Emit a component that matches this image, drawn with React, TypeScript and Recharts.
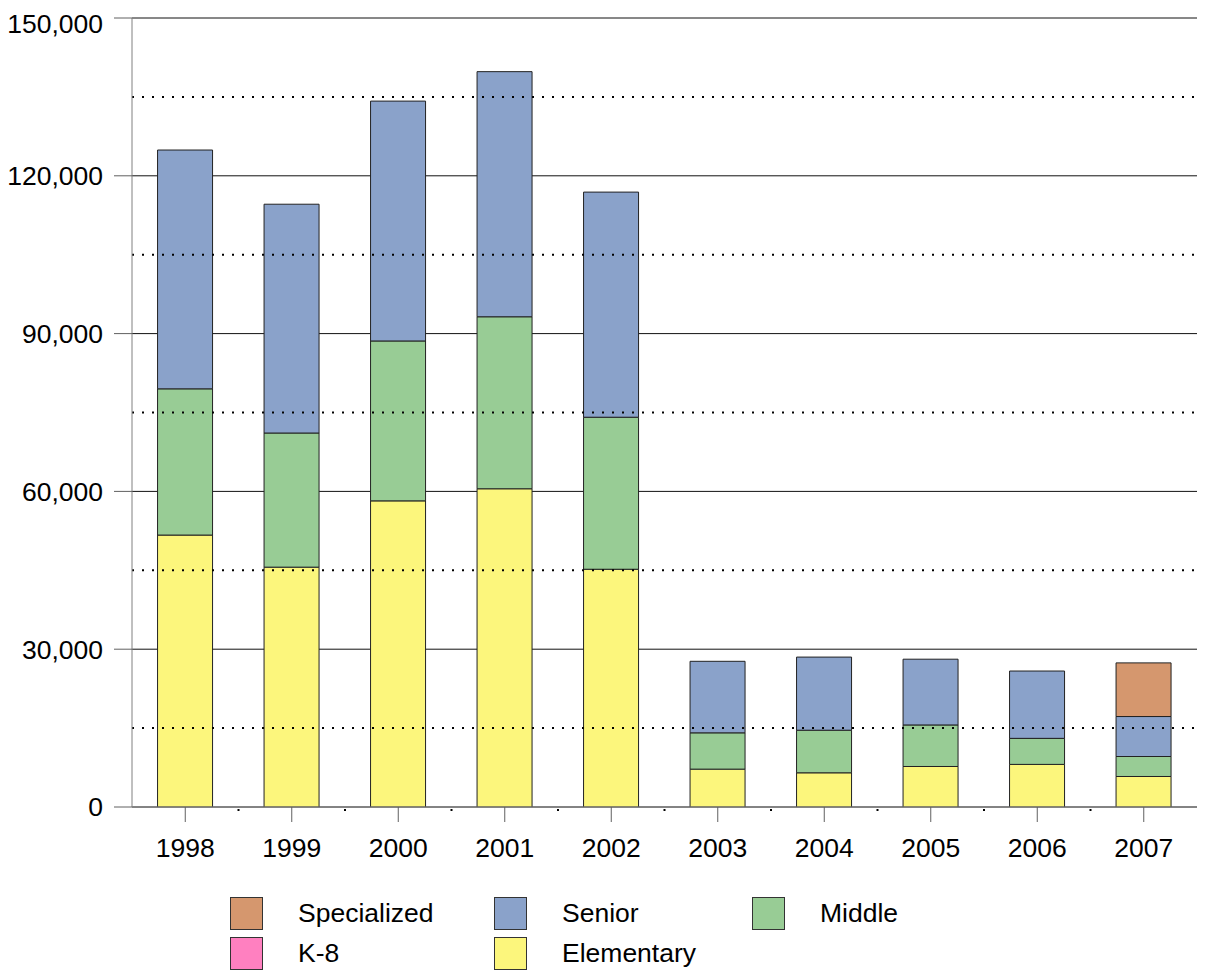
import React from 'react';
import { BarChart, Bar, XAxis, YAxis, CartesianGrid, ReferenceLine, Legend } from 'recharts';

const years = ['1998', '1999', '2000', '2001', '2002', '2003', '2004', '2005', '2006', '2007'];
const elementary = [51700, 45600, 58200, 60500, 45200, 7200, 6500, 7700, 8100, 5800];
const k8 = [0, 0, 0, 0, 0, 0, 0, 0, 0, 0];
const middle = [27800, 25500, 30400, 32700, 28900, 6900, 8100, 7900, 4950, 3800];
const senior = [45400, 43500, 45600, 46600, 42800, 13600, 13900, 12500, 12800, 7600];
const specialized = [0, 0, 0, 0, 0, 0, 0, 0, 0, 10200];
const yTicks = [0, 30000, 60000, 90000, 120000, 150000];
const minorGrid = [15000, 45000, 75000, 105000, 135000];

const seriesInfo = [
  { key: 'Elementary', color: '#FCF67C' },
  { key: 'K-8', color: '#FF80C0' },
  { key: 'Middle', color: '#98CC95' },
  { key: 'Senior', color: '#8AA2CA' },
  { key: 'Specialized', color: '#D5976E' },
];

const legendLayout = [
  ['Specialized', 'Senior', 'Middle'],
  ['K-8', 'Elementary'],
];

const data = years.map((y, i) => ({
  year: y,
  Elementary: elementary[i],
  'K-8': k8[i],
  Middle: middle[i],
  Senior: senior[i],
  Specialized: specialized[i],
}));

const FONT = '"Liberation Sans", Arial, sans-serif';
const FS = 26.5;

const colorOf = (k: string) => seriesInfo.find((s) => s.key === k)!.color;

const LegendContent = () => {
  const colX = [222, 486, 744];
  return (
    <div style={{ position: 'relative', width: 1201, height: 80, fontFamily: FONT, fontSize: FS, color: '#000' }}>
      {legendLayout.map((row, r) =>
        row.map((k, c) => (
          <div key={k} style={{ position: 'absolute', left: colX[c], top: r * 40, height: 33, display: 'flex', alignItems: 'center' }}>
            <div style={{ width: 31, height: 31, background: colorOf(k), border: '1px solid #333' }} />
            <span style={{ marginLeft: 35, whiteSpace: 'nowrap', lineHeight: '33px' }}>{k}</span>
          </div>
        ))
      )}
    </div>
  );
};

const XTick = (props: any) => {
  const { x, y, payload, index } = props;
  const axisY = y - 15 - 16;
  return (
    <g>
      {index > 0 && payload && payload.offset ? (
        <rect x={x - payload.offset - 1} y={axisY + 2} width={2} height={2} fill="#000" />
      ) : null}
      <text x={x} y={y} dy="0.71em" textAnchor="middle" fontFamily={FONT} fontSize={FS} fill="#000">
        {payload.value}
      </text>
    </g>
  );
};

export default function App() {
  return (
    <div style={{ position: 'relative', width: 1201, height: 964 }}>
      <BarChart
        width={1201}
        height={964}
        data={data}
        margin={{ top: 10, right: 12, left: 24, bottom: 105 }}
        barCategoryGap="24%"
      >
        <CartesianGrid horizontal vertical={false} stroke="#111" strokeWidth={1} />
        {minorGrid.map((v) => (
          <ReferenceLine key={v} y={v} stroke="#000" strokeWidth={2} strokeDasharray="2 8" />
        ))}
        <XAxis
          dataKey="year"
          height={60}
          tickSize={15}
          tickMargin={16}
          tickLine={{ stroke: '#606060' }}
          axisLine={{ stroke: '#808080' }}
          tick={<XTick />}
          interval={0}
        />
        <YAxis
          width={100}
          domain={[0, 150000]}
          ticks={yTicks}
          tickSize={18}
          tickMargin={11}
          tickLine={{ stroke: '#606060' }}
          axisLine={{ stroke: '#808080' }}
          tick={{ fontFamily: FONT, fontSize: FS, fill: '#000' }}
          tickFormatter={(v: number) => v.toLocaleString('en-US')}
          allowDataOverflow
        />
        <YAxis yAxisId="right" orientation="right" width={0} tick={false} tickLine={false} axisLine={{ stroke: '#404040' }} domain={[0, 150000]} />
        {seriesInfo.map((s) => (
          <Bar key={s.key} dataKey={s.key} stackId="a" fill={s.color} stroke="#222" strokeWidth={1} isAnimationActive={false} />
        ))}
        <Legend
          verticalAlign="middle"
          align="center"
          layout="horizontal"
          content={<LegendContent />}
          wrapperStyle={{ top: 889, left: 0, width: 1201, height: 80 }}
        />
      </BarChart>
    </div>
  );
}
